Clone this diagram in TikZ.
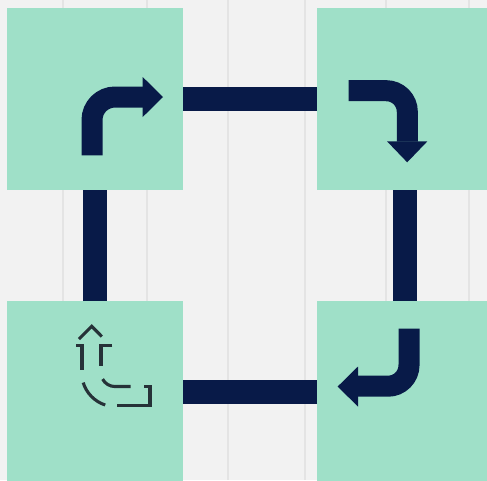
\documentclass[tikz,border=0pt]{standalone}
\definecolor{bg}{HTML}{F2F2F2}
\definecolor{gridc}{HTML}{E4E4E4}
\definecolor{mint}{HTML}{9FE0C8}
\definecolor{navy}{HTML}{081A48}
\definecolor{iconc}{HTML}{263238}
\begin{document}
\begin{tikzpicture}[x=1pt,y=-1pt,
  box/.style={fill=mint, draw=none, minimum width=176pt, minimum height=182pt, inner sep=0pt, outer sep=0pt},
  link/.style={draw=navy, line width=24pt},
  bendline/.style={draw=navy, line width=21pt},
  headfill/.style={fill=navy, draw=none},
  dashicon/.style={draw=iconc, line width=3.1pt},
  gridline/.style={draw=gridc, line width=1.5pt}]
\clip (0,0) rectangle (487,480);
\fill[bg] (0,0) rectangle (487,480);
\foreach \x in {63,147,228,305,386,469} \draw[gridline] (\x,0) -- (\x,480);
% squares
\node[box] (tl) at (95,99) {};
\node[box] (tr) at (405,99) {};
\node[box] (bl) at (95,392) {};
\node[box] (br) at (405,392) {};
% connectors
\draw[link] (tl.east) -- (tr.west);
\draw[link] (tr.south) -- (br.north);
\draw[link] (br.west) -- (bl.east);
\draw[link] (bl.north) -- (tl.south);
% top-left turn-right arrow
\draw[bendline, rounded corners=23pt] (92,155.3) -- (92,97) -- (143,97);
\fill[headfill] (142.7,77) -- (163,97) -- (142.7,117) -- cycle;
% top-right turn-down arrow
\draw[bendline, rounded corners=21pt] (348.7,90.7) -- (407.3,90.7) -- (407.3,141.6);
\fill[headfill] (387,141.3) -- (407.2,162.3) -- (427.4,141.3) -- cycle;
% bottom-right return arrow
\draw[bendline, rounded corners=21pt] (409,328.7) -- (409,386.2) -- (357.7,386.2);
\fill[headfill] (358,366.5) -- (337.7,386.5) -- (358,406.7) -- cycle;
% bottom-left dashed arrow icon
\draw[dashicon] (79,339) -- (91.7,326.3) -- (101.8,336.5);
\draw[dashicon] (76,345.3) -- (82,345.3) -- (82,370.3);
\draw[dashicon] (112.3,345.3) -- (101,345.3) -- (101,365.7);
\draw[dashicon] (83.2,382.6) arc[start angle=163, end angle=108, radius=34];
\draw[dashicon] (102.6,379.1) arc[start angle=152, end angle=90, radius=14] -- (130.7,386.5);
\draw[dashicon] (144,386.5) -- (150,386.5) -- (150,405.7) -- (117.3,405.7);
\end{tikzpicture}
\end{document}
